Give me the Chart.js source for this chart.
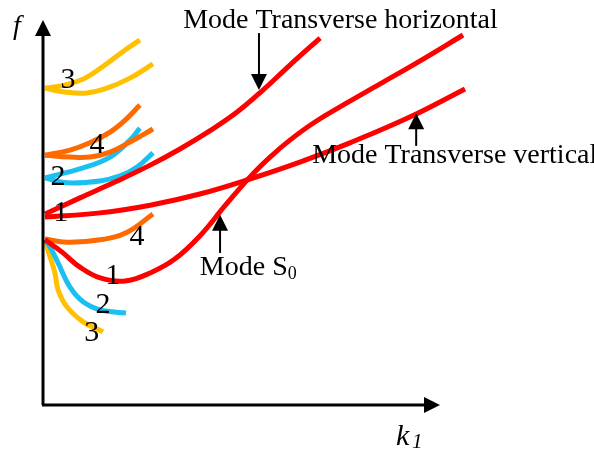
<!DOCTYPE html>
<html>
<head>
<meta charset="utf-8">
<script src="https://cdn.jsdelivr.net/npm/chart.js@4.4.1/dist/chart.umd.min.js"></script>
<style>
  body { margin: 0; background: #fff; }
  #wrap { width: 594px; height: 451px; }
</style>
</head>
<body>
<div id="wrap"><canvas id="myChart" width="594" height="451"></canvas></div>
<script>
// dispersion curves, k1 on x, f on y (schematic units 0..10)
const kTH = [0.05, 0.93, 1.81, 2.70, 3.45, 4.20, 4.89, 5.52, 6.22, 6.98];
const fTH = [4.96, 5.38, 5.79, 6.23, 6.65, 7.12, 7.61, 8.16, 8.83, 9.53];

const kTV = [0.05, 1.44, 2.70, 3.95, 5.21, 6.47, 7.73, 9.24, 10.63];
const fTV = [4.88, 4.99, 5.19, 5.48, 5.87, 6.31, 6.81, 7.48, 8.21];

const kS0 = [0.05, 0.48, 0.93, 1.44, 2.07, 2.70, 3.32, 3.95, 4.58, 5.21, 5.72, 6.22, 6.85, 7.61, 8.49, 9.50, 10.58];
const fS0 = [4.29, 3.97, 3.58, 3.30, 3.22, 3.43, 3.79, 4.39, 5.17, 5.92, 6.44, 6.88, 7.35, 7.82, 8.34, 8.94, 9.61];

// upper branches
const kY1 = [0.05, 0.55, 1.06, 1.56, 2.19, 2.77];
const fY1 = [8.23, 8.13, 8.10, 8.21, 8.49, 8.86];
const kY2 = [0.05, 0.55, 1.06, 1.56, 2.07, 2.44];
const fY2 = [8.23, 8.31, 8.49, 8.83, 9.22, 9.48];

const kO1 = [0.05, 0.68, 1.18, 1.69, 2.19, 2.77];
const fO1 = [6.49, 6.44, 6.44, 6.57, 6.83, 7.17];
const kO2 = [0.05, 0.68, 1.18, 1.69, 2.07, 2.44];
const fO2 = [6.49, 6.62, 6.81, 7.09, 7.40, 7.79];

const kC1 = [0.05, 0.60, 1.44, 1.94, 2.37, 2.77];
const fC1 = [5.90, 5.77, 5.82, 5.95, 6.18, 6.55];
const kC2 = [0.05, 1.01, 1.69, 2.19, 2.44];
const fC2 = [5.90, 6.16, 6.44, 6.88, 7.19];

// lower branches
const kO3 = [0.05, 0.60, 1.44, 2.12, 2.77];
const fO3 = [4.31, 4.23, 4.29, 4.49, 4.96];
const kC3 = [0.05, 0.18, 0.38, 0.68, 1.01, 1.44, 2.09];
const fC3 = [4.29, 4.10, 3.69, 3.06, 2.68, 2.47, 2.39];
const kY3 = [0.05, 0.10, 0.30, 0.38, 0.60, 1.01, 1.51];
const fY3 = [4.29, 4.10, 3.43, 2.99, 2.55, 2.16, 1.90];

// branch numbers
const numText = ["3", "4", "2", "1", "4", "1", "2", "3"];
const numK = [0.63, 1.36, 0.38, 0.45, 2.37, 1.76, 1.51, 1.23];
const numF = [8.44, 6.75, 5.92, 4.98, 4.36, 3.35, 2.60, 1.87];

const red = "#ff0000";
const yellow = "#ffc000";
const orange = "#ff6a00";
const cyan = "#1cc0f0";

function pts(ks, fs) {
  return ks.map((k, i) => ({ x: k, y: fs[i] }));
}

function curve(ks, fs, color) {
  return {
    data: pts(ks, fs),
    borderColor: color,
    borderWidth: 5,
    pointRadius: 0,
    tension: 0.4,
    fill: false,
    clip: false
  };
}

// labels, axes and arrows drawn on top
const overlay = {
  id: "overlay",
  afterDatasetsDraw(chart) {
    const ctx = chart.ctx;
    const xs = chart.scales.x;
    const ys = chart.scales.y;
    const a = chart.chartArea;
    ctx.save();
    ctx.fillStyle = "#000";
    ctx.strokeStyle = "#000";

    // axes
    ctx.lineWidth = 3;
    ctx.beginPath();
    ctx.moveTo(a.left, a.bottom);
    ctx.lineTo(a.left, a.top + 12);
    ctx.moveTo(a.left - 1, a.bottom);
    ctx.lineTo(a.right - 12, a.bottom);
    ctx.stroke();
    ctx.beginPath();
    ctx.moveTo(a.left, a.top);
    ctx.lineTo(a.left - 8, a.top + 16);
    ctx.lineTo(a.left + 8, a.top + 16);
    ctx.closePath();
    ctx.fill();
    ctx.beginPath();
    ctx.moveTo(a.right, a.bottom);
    ctx.lineTo(a.right - 16, a.bottom - 8);
    ctx.lineTo(a.right - 16, a.bottom + 8);
    ctx.closePath();
    ctx.fill();

    ctx.font = "italic 28px 'Liberation Serif'";
    ctx.textAlign = "left";
    ctx.textBaseline = "alphabetic";
    ctx.fillText("f", 13, 34);
    ctx.font = "italic 30px 'Liberation Serif'";
    ctx.fillText("k", 396, 445);
    ctx.font = "italic 21px 'Liberation Serif'";
    ctx.fillText("1", 412, 448);

    // branch numbers
    ctx.font = "30px 'Liberation Serif'";
    ctx.textAlign = "center";
    ctx.textBaseline = "middle";
    numText.forEach((t, i) => {
      ctx.fillText(t, xs.getPixelForValue(numK[i]), ys.getPixelForValue(numF[i]));
    });

    // mode names
    ctx.font = "28px 'Liberation Serif'";
    ctx.textAlign = "left";
    ctx.textBaseline = "alphabetic";
    ctx.fillText("Mode Transverse horizontal", xs.getPixelForValue(3.53), ys.getPixelForValue(9.79));
    ctx.fillText("Mode Transverse vertical", xs.getPixelForValue(6.78), ys.getPixelForValue(6.29));
    let sx = xs.getPixelForValue(3.95);
    let sy = ys.getPixelForValue(3.38);
    ctx.fillText("Mode S", sx, sy);
    let w = ctx.measureText("Mode S").width;
    ctx.font = "18px 'Liberation Serif'";
    ctx.fillText("0", sx + w, sy + 4);

    arrow(ctx, xs.getPixelForValue(5.44), ys.getPixelForValue(9.66), ys.getPixelForValue(8.18));
    arrow(ctx, xs.getPixelForValue(9.40), ys.getPixelForValue(6.73), ys.getPixelForValue(7.58));
    arrow(ctx, xs.getPixelForValue(4.46), ys.getPixelForValue(3.95), ys.getPixelForValue(4.94));
    ctx.restore();
  }
};

function arrow(ctx, x, y0, y1) {
  const dir = y1 > y0 ? 1 : -1;
  ctx.lineWidth = 2;
  ctx.beginPath();
  ctx.moveTo(x, y0);
  ctx.lineTo(x, y1 - dir * 14);
  ctx.stroke();
  ctx.beginPath();
  ctx.moveTo(x, y1);
  ctx.lineTo(x - 8, y1 - dir * 16);
  ctx.lineTo(x + 8, y1 - dir * 16);
  ctx.closePath();
  ctx.fill();
}

new Chart(document.getElementById("myChart"), {
  type: "line",
  data: {
    datasets: [
      curve(kTH, fTH, red),
      curve(kTV, fTV, red),
      curve(kS0, fS0, red),
      curve(kO3, fO3, orange),
      curve(kC3, fC3, cyan),
      curve(kY3, fY3, yellow),
      curve(kO1, fO1, orange),
      curve(kO2, fO2, orange),
      curve(kC1, fC1, cyan),
      curve(kC2, fC2, cyan),
      curve(kY1, fY1, yellow),
      curve(kY2, fY2, yellow)
    ]
  },
  options: {
    responsive: false,
    animation: false,
    devicePixelRatio: 1,
    layout: { padding: { left: 43, right: 154, top: 20, bottom: 46 } },
    scales: {
      x: { type: "linear", min: 0, max: 10, display: false },
      y: { type: "linear", min: 0, max: 10, display: false }
    },
    plugins: {
      legend: { display: false },
      tooltip: { enabled: false }
    }
  },
  plugins: [overlay]
});
</script>
</body>
</html>
